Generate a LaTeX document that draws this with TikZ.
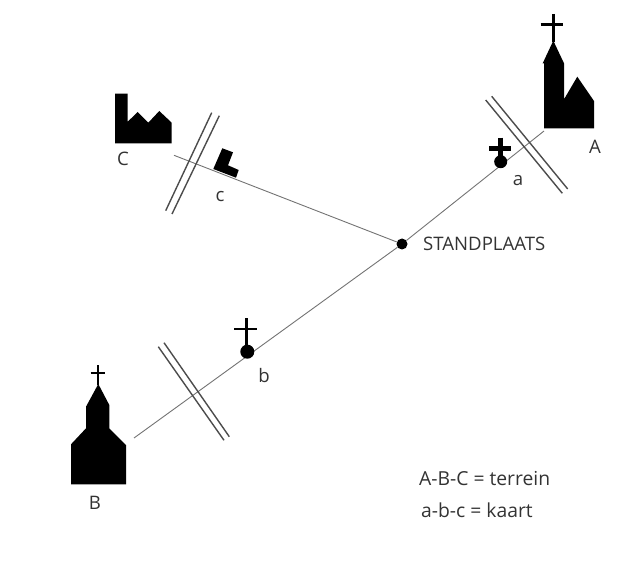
\documentclass[tikz,border=0pt]{standalone}
\usepackage{fontspec}
\setmainfont{Open Sans}
\tikzset{
  solid shape/.style={fill=black,draw=none},
  crossbar/.style={draw=black,line cap=butt},
  sight/.style={draw=black!55,line width=0.9pt},
  rail/.style={draw=black!70,line width=1.4pt},
  lab/.style={text=black!80,font=\fontsize{18.6}{22}\selectfont,inner sep=0pt},
  legend/.style={lab,anchor=west,font=\fontsize{19.3}{23}\selectfont},
  dotnode/.style={circle,fill=black,draw=none,inner sep=0pt},
}
\begin{document}
\begin{tikzpicture}[x=1pt,y=-1pt]
\useasboundingbox (0,0) rectangle (640,580);
% sight-line ends
\node[dotnode,minimum size=11pt] (S) at (402,244) {};
\coordinate (endA) at (544,131);
\coordinate (endB) at (134,438);
\coordinate (endC) at (174,155.3);
\draw[sight] (S) -- (endA);
\draw[sight] (S) -- (endB);
\draw[sight] (S) -- (endC);
% rails
\draw[rail] (485.7,100) -- (562.3,193.3);
\draw[rail] (491.7,96.3) -- (567.7,189);
\draw[rail] (211.7,112.7) -- (165.7,210.7);
\draw[rail] (219.3,115.7) -- (172,214);
\draw[rail] (158.3,346.7) -- (224,440.3);
\draw[rail] (164,342.7) -- (229.3,436.7);
% church A
\fill[solid shape] (544,128.3) -- (594,128.3) -- (594,101) -- (577.3,76.7) -- (564,99.3) -- (564,63.3) -- (553.3,40.7) -- (542.7,63.3) -- (544,63.3) -- cycle;
\draw[crossbar,line width=2.4pt] (553.3,14) -- (553.3,42);
\draw[crossbar,line width=2.8pt] (540.7,24.7) -- (563.3,24.7);
% church B
\fill[solid shape] (71,484.3) -- (126,484.3) -- (126,445) -- (109.3,428.3) -- (109.3,405) -- (98.3,384) -- (86,406.7) -- (86,428.3) -- (71,444.3) -- cycle;
\draw[crossbar,line width=2.2pt] (98.3,365) -- (98.3,385);
\draw[crossbar,line width=2.2pt] (90.7,373.3) -- (104.7,373.3);
% factory C
\fill[solid shape] (115,143.3) -- (115,93.7) -- (127.7,93.7) -- (127.7,121.7) -- (137.7,112) -- (148.3,122.7) -- (159.3,111) -- (171.7,122.7) -- (171.7,143.3) -- cycle;
% map symbols
\fill[solid shape] (222.3,148.3) -- (233,152.3) -- (228,165.3) -- (238.7,170) -- (236,177.7) -- (213.3,169) -- cycle;
\node[dotnode,minimum size=13pt] (a) at (500.7,161.7) {};
\draw[crossbar,line width=5pt] (500.7,137.7) -- (500.7,156);
\draw[crossbar,line width=5pt] (489.3,149) -- (511.3,149);
\node[dotnode,minimum size=14pt] (b) at (247.3,351.7) {};
\draw[crossbar,line width=2.6pt] (246.7,318.3) -- (246.7,346);
\draw[crossbar,line width=2.8pt] (234.3,329) -- (256.7,329);
% labels
\node[lab] (lA) at (595,147) {A};
\node[lab] (la) at (518,181) {a};
\node[lab] (lC) at (123,159) {C};
\node[lab] (lc) at (220,197) {c};
\node[lab] (lb) at (264,376) {b};
\node[lab] (lB) at (95,503) {B};
\node[lab,anchor=west] (lS) at (423,244) {STANDPLAATS};
\node[legend] (l1) at (419,479) {A-B-C = terrein};
\node[legend] (l2) at (421,510) {a-b-c = kaart};
\end{tikzpicture}
\end{document}
